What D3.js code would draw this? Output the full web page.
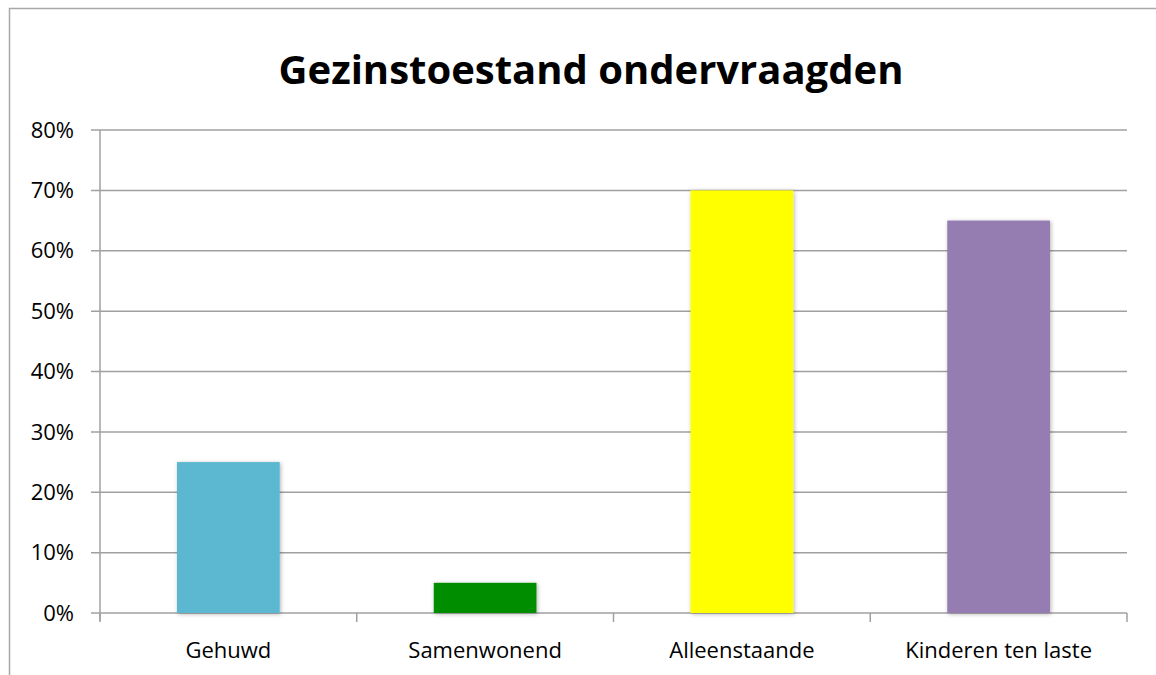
<!DOCTYPE html>
<html>
<head>
<meta charset="utf-8">
<script src="https://cdn.jsdelivr.net/npm/d3@7"></script>
<style>
  body { margin: 0; background: #fff; }
  svg { display: block; font-family: "Open Sans", sans-serif; }
</style>
</head>
<body>
<svg id="chart" width="1156" height="675"></svg>
<script>
var categories = ["Gehuwd", "Samenwonend", "Alleenstaande", "Kinderen ten laste"];
var values = [0.25, 0.05, 0.70, 0.65];
var colors = ["#5bb8d0", "#008e00", "#ffff00", "#957bb1"];
var yTicks = [0, 0.1, 0.2, 0.3, 0.4, 0.5, 0.6, 0.7, 0.8];
var title = "Gezinstoestand ondervraagden";

var svg = d3.select("#chart");

// outer chart border (runs off the right and bottom edge)
svg.append("rect")
    .attr("x", 9.5).attr("y", 8.5)
    .attr("width", 1160).attr("height", 700)
    .attr("fill", "#fff")
    .attr("stroke", "#a8a8a8")
    .attr("stroke-width", 1.5);

var defs = svg.append("defs");
var f = defs.append("filter").attr("id", "shadow")
    .attr("x", "-20%").attr("y", "-20%").attr("width", "140%").attr("height", "140%");
f.append("feDropShadow")
    .attr("dx", 1).attr("dy", 1).attr("stdDeviation", 2)
    .attr("flood-color", "#000").attr("flood-opacity", 0.3);

var plotLeft = 100, plotRight = 1127, plotTop = 130, plotBottom = 613;

var x = d3.scaleBand()
    .domain(categories)
    .range([plotLeft, plotRight])
    .paddingInner(0.6)
    .paddingOuter(0.3);

var y = d3.scaleLinear()
    .domain([0, 0.8])
    .range([plotBottom, plotTop]);

// gridlines
svg.append("g")
    .selectAll("line")
    .data(yTicks)
    .enter().append("line")
    .attr("x1", plotLeft - 9).attr("x2", plotRight)
    .attr("y1", function(d) { return y(d); })
    .attr("y2", function(d) { return y(d); })
    .attr("stroke", "#a0a0a0")
    .attr("stroke-width", 1.5);

// y axis line
svg.append("line")
    .attr("x1", plotLeft).attr("x2", plotLeft)
    .attr("y1", plotTop).attr("y2", plotBottom + 8)
    .attr("stroke", "#a0a0a0").attr("stroke-width", 1.5);

// y labels
svg.append("g")
    .selectAll("text")
    .data(yTicks)
    .enter().append("text")
    .attr("x", 74)
    .attr("y", function(d) { return y(d); })
    .attr("dy", "0.35em")
    .attr("text-anchor", "end")
    .attr("font-size", 22)
    .attr("fill", "#000")
    .text(d3.format(".0%"));

// x ticks between categories
var tickX = [plotLeft].concat(categories.map(function(c) { return x(c) + x.bandwidth() + x.step() * x.paddingInner() / 2; }));
tickX[tickX.length - 1] = plotRight;
svg.append("g")
    .selectAll("line")
    .data(tickX)
    .enter().append("line")
    .attr("x1", function(d) { return d; })
    .attr("x2", function(d) { return d; })
    .attr("y1", plotBottom).attr("y2", plotBottom + 9)
    .attr("stroke", "#a0a0a0").attr("stroke-width", 1.5);

// bars
svg.append("g")
    .selectAll("rect")
    .data(values)
    .enter().append("rect")
    .attr("x", function(d, i) { return x(categories[i]); })
    .attr("y", function(d) { return y(d); })
    .attr("width", x.bandwidth())
    .attr("height", function(d) { return plotBottom - y(d); })
    .attr("fill", function(d, i) { return colors[i]; })
    .attr("filter", "url(#shadow)");

// category labels
svg.append("g")
    .selectAll("text")
    .data(categories)
    .enter().append("text")
    .attr("x", function(d) { return x(d) + x.bandwidth() / 2; })
    .attr("y", 650)
    .attr("dy", "0.35em")
    .attr("text-anchor", "middle")
    .attr("font-size", 22)
    .text(function(d) { return d; });

// title
svg.append("text")
    .attr("x", 591).attr("y", 70)
    .attr("dy", "0.35em")
    .attr("text-anchor", "middle")
    .attr("font-size", 40)
    .attr("font-weight", "bold")
    .text(title);
</script>
</body>
</html>
